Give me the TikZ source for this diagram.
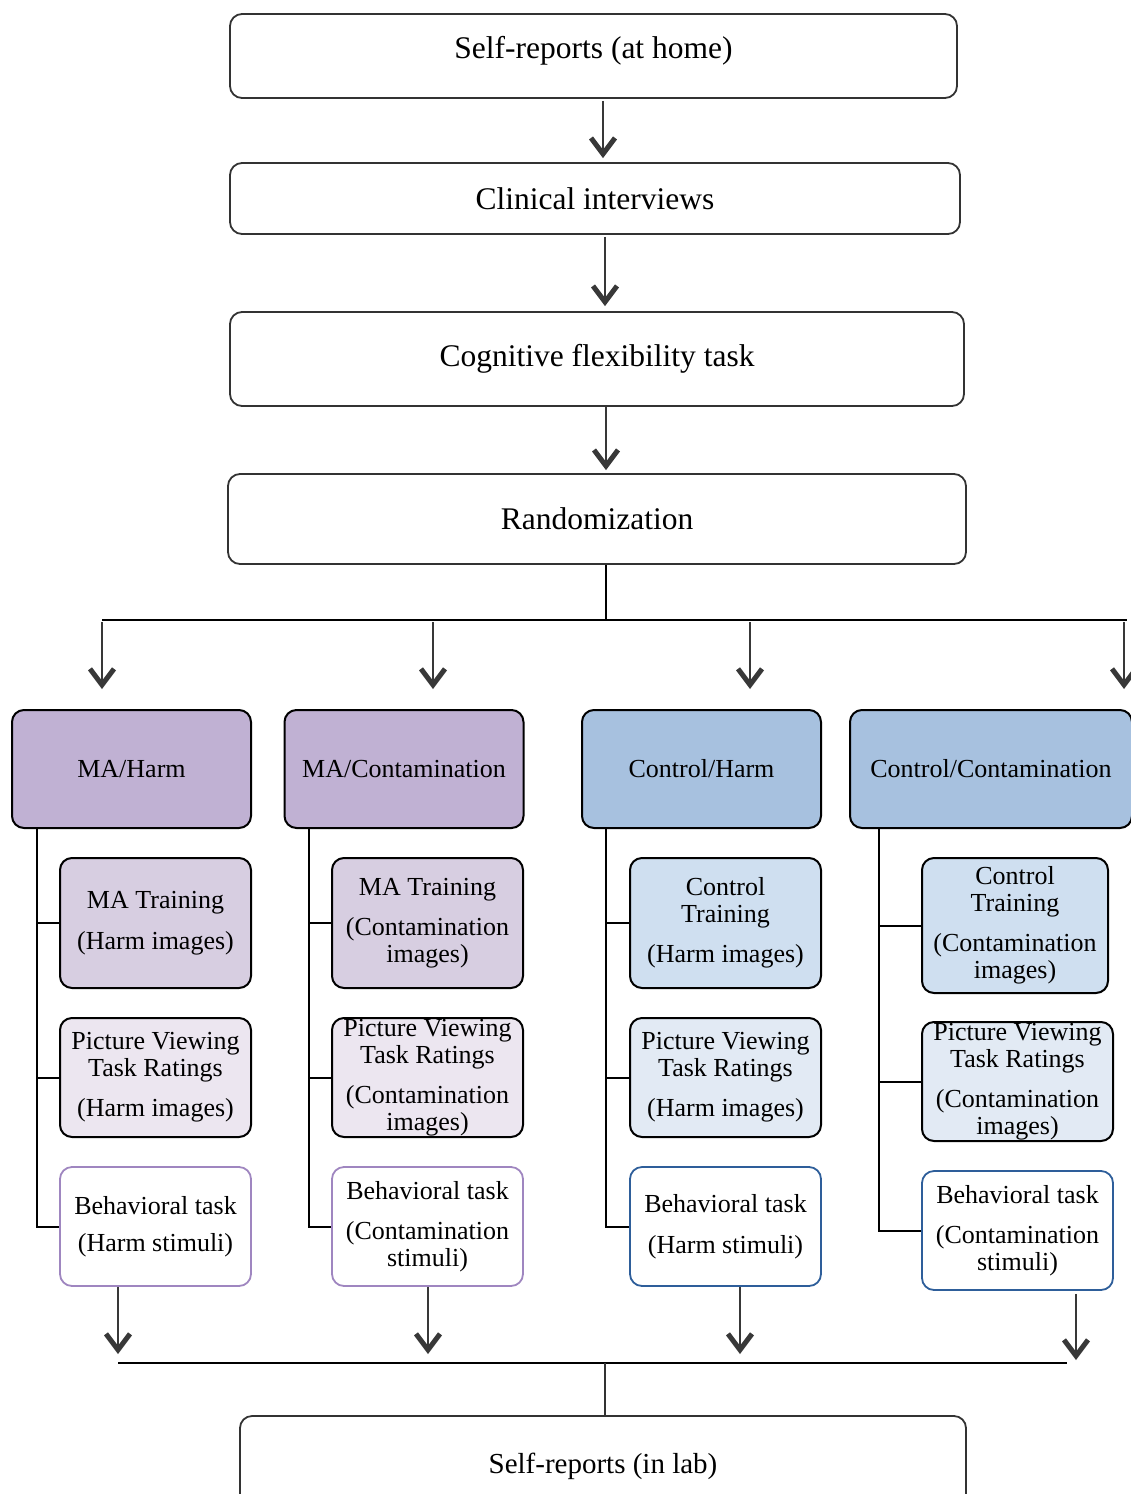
\documentclass[tikz,border=0pt]{standalone}
\usepackage{fontspec}
\setmainfont{Liberation Serif}
\usetikzlibrary{arrows.meta,calc}
\definecolor{bordergray}{HTML}{333333}
\definecolor{arrowgray}{HTML}{383838}
\definecolor{maDark}{HTML}{C0B1D3}
\definecolor{maMid}{HTML}{D7CEE1}
\definecolor{maLight}{HTML}{ECE6F0}
\definecolor{maEdge}{HTML}{9F86C0}
\definecolor{ctDark}{HTML}{A7C1DF}
\definecolor{ctMid}{HTML}{CFDFF0}
\definecolor{ctLight}{HTML}{E2EAF4}
\definecolor{ctEdge}{HTML}{2E5E9A}
\tikzset{
  topbox/.style={draw=bordergray, line width=1.8pt, rounded corners=12pt, inner sep=0pt,
    font=\fontsize{31.5}{33}\selectfont, align=center},
  grpbox/.style={draw=black, line width=2pt, rounded corners=12pt, inner sep=0pt,
    minimum width=239pt, minimum height=118pt, font=\fontsize{26}{28}\selectfont, align=center},
  subbox/.style={draw=black, line width=2pt, rounded corners=12pt, inner sep=0pt,
    minimum width=191pt, minimum height=119pt, font=\fontsize{26}{26.5}\selectfont, align=center},
  behbox/.style={subbox, line width=1.8pt, fill=white},
  arr/.style={draw=arrowgray, line width=2.5pt,
    -{Straight Barb[length=16pt,width=24pt,line width=5pt 0]}},
  tree/.style={draw=black, line width=2pt},
}
\begin{document}
\begin{tikzpicture}[x=1pt,y=-1pt]
\useasboundingbox (0,0) rectangle (1131,1494);
\fill[white] (0,0) rectangle (1131,1494);

% top chain
\node[topbox, minimum width=727pt, minimum height=84pt, text height=23pt, text depth=19pt] (b1) at (593.5,56) {Self-reports (at home)};
\node[topbox, minimum width=730pt, minimum height=71pt] (b2) at (595,198.5) {Clinical interviews};
\node[topbox, minimum width=734pt, minimum height=94pt] (b3) at (597,359) {Cognitive flexibility task};
\node[topbox, minimum width=738pt, minimum height=90pt] (b4) at (597,519) {Randomization};

\draw[arr] ($(b1.south)+(9.5,2)$) -- ($(b2.north)+(8,-4)$);
\draw[arr] ($(b2.south)+(10,2)$) -- ($(b3.north)+(8,-5)$);
\draw[arr] ($(b3.south)+(9,0)$) -- ($(b4.north)+(9,-3)$);

% split
\coordinate (sp) at (606,620);
\coordinate (spL) at (102,620);
\coordinate (spR) at (1127,620);
\draw[tree] ($(b4.south)+(9,0)$) -- (sp);
\draw[tree] (spL) -- (spR);

% group boxes
\node[grpbox, fill=maDark] (g1) at (131.5,769) {MA/Harm};
\node[grpbox, fill=maDark] (g2) at (404,769) {MA/Contamination};
\node[grpbox, fill=ctDark] (g3) at (701.5,769) {Control/Harm};
\node[grpbox, fill=ctDark, minimum width=282pt] (g4) at (991,769) {Control/Contamination};

\draw[arr] (102,622) -- ($(g1.north -| 102,0)+(0,-20)$);
\draw[arr] (433,622) -- ($(g2.north -| 433,0)+(0,-20)$);
\draw[arr] (750,622) -- ($(g3.north -| 750,0)+(0,-20)$);
\draw[arr] (1124,622) -- ($(g4.north -| 1124,0)+(0,-20)$);

% sub boxes column 1
\node[subbox, fill=maMid, minimum height=130pt] (s11) at (155.5,923) {MA Training\\[14pt](Harm images)};
\node[subbox, fill=maLight] (s12) at (155.5,1077.5) {Picture Viewing\\Task Ratings\\[14pt](Harm images)};
\node[behbox, draw=maEdge] (s13) at (155.5,1226.5) {Behavioral task\\[11pt](Harm stimuli)};
% column 2
\node[subbox, fill=maMid, minimum height=130pt] (s21) at (427.5,923) {MA Training\\[14pt](Contamination\\images)};
\node[subbox, fill=maLight] (s22) at (427.5,1077.5) {Picture Viewing\\Task Ratings\\[14pt](Contamination\\images)};
\node[behbox, draw=maEdge] (s23) at (427.5,1226.5) {Behavioral task\\[14pt](Contamination\\stimuli)};
% column 3
\node[subbox, fill=ctMid, minimum height=130pt] (s31) at (725.5,923) {Control\\Training\\[14pt](Harm images)};
\node[subbox, fill=ctLight] (s32) at (725.5,1077.5) {Picture Viewing\\Task Ratings\\[14pt](Harm images)};
\node[behbox, draw=ctEdge] (s33) at (725.5,1226.5) {Behavioral task\\[14pt](Harm stimuli)};
% column 4
\node[subbox, fill=ctMid, minimum height=135pt, minimum width=186pt] (s41) at (1015,925.5) {Control\\Training\\[14pt](Contamination\\images)};
\node[subbox, fill=ctLight] (s42) at (1017.5,1081.5) {Picture Viewing\\Task Ratings\\[14pt](Contamination\\images)};
\node[behbox, draw=ctEdge] (s43) at (1017.5,1230.5) {Behavioral task\\[14pt](Contamination\\stimuli)};

% trunks
\coordinate (t1) at (37,0);
\coordinate (t2) at (309,0);
\coordinate (t3) at (606,0);
\coordinate (t4) at (879,0);
\foreach \c/\t in {1/t1,2/t2,3/t3,4/t4}{
  \draw[tree] (g\c.south -| \t) |- (s\c3.west);
  \draw[tree] (s\c1.west -| \t) -- (s\c1.west);
  \draw[tree] (s\c2.west -| \t) -- (s\c2.west);
}

% bottom
\node[topbox, minimum width=726pt, minimum height=100pt, font=\fontsize{29}{31}\selectfont] (b5) at (603,1466) {Self-reports (in lab)};
\coordinate (jL) at (118,1363);
\coordinate (jR) at (1067,1363);
\coordinate (jm) at (605,1363);
\draw[arr] (s13.south -| 118,0) -- (118,1354);
\draw[arr] (s23.south -| 428,0) -- (428,1354);
\draw[arr] (s33.south -| 740,0) -- (740,1354);
\draw[arr] ($(s43.south -| 1076,0)+(0,3)$) -- (1076,1360);
\draw[tree] (jL) -- (jR);
\draw[tree, draw=bordergray] (jm) -- (b5.north -| jm);
\end{tikzpicture}
\end{document}
